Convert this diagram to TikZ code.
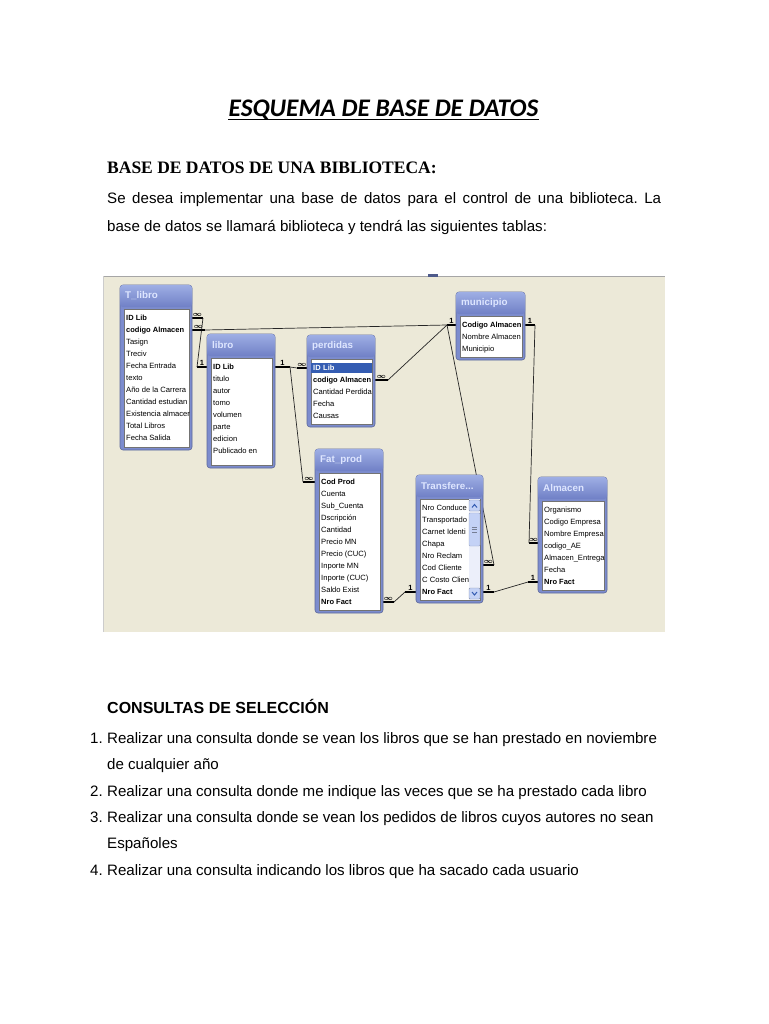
\documentclass[tikz,border=0pt]{standalone}
\usepackage{fontspec}
\setmainfont{Liberation Sans}
\newfontfamily\headfont{Liberation Serif}
\newfontfamily\titlefont{Carlito}
\usetikzlibrary{positioning,calc,backgrounds}
\frenchspacing

\definecolor{screenback}{HTML}{ECE9D8}
\definecolor{winframe}{RGB}{124,140,206}
\definecolor{wintop}{RGB}{158,174,228}
\definecolor{winbot}{RGB}{112,128,198}
\definecolor{wintext}{RGB}{222,230,255}
\definecolor{selblue}{RGB}{52,92,178}
\definecolor{scrolltrack}{RGB}{236,239,250}
\definecolor{scrollbtn}{RGB}{196,210,246}

\tikzset{
    win/.style={
           fill=winframe,
           draw=winframe!75!black, line width=0.6pt,
           rounded corners=3pt,
           inner sep=0pt, outer sep=0pt,
           },
    wintitle/.style={anchor=west, inner sep=0pt, text=wintext,
           font=\fontsize{9.8}{10}\selectfont\bfseries},
    row/.style={anchor=west, inner sep=0pt, text height=5.4pt, text depth=1.4pt,
           font=\fontsize{7.6}{8}\selectfont},
    keyrow/.style={row, font=\fontsize{7.5}{8}\selectfont\bfseries},
    selrow/.style={keyrow, text=white, fill=selblue, inner xsep=2pt,
           inner ysep=2pt, text width=70pt, xshift=-2pt},
    link/.style={draw=black!85, line width=0.7pt},
    stub/.style={draw=black, line width=2.2pt},
    card/.style={inner sep=0.5pt, font=\fontsize{7.5}{8}\selectfont\bfseries\boldmath},
    body/.style={anchor=base west, inner sep=0pt, font=\fontsize{15.1}{18}\selectfont},
}

% one table window: name, x1, y1, x2, y2, title, rows (style/text)
\newcommand{\dbtable}[7]{%
    \node[win, minimum width=#4-#2, minimum height=#5-#3,
          anchor=north west] (#1) at (#2,#3) {};
    \shade[top color=wintop, bottom color=winbot, rounded corners=3pt]
          (#2,#3) rectangle (#4,#3+22);
    \node[wintitle] (#1-title) at (#2+5,#3+11) {#6};
    \draw[fill=white, draw=black!55, line width=0.5pt]
          (#2+4,#3+24) rectangle (#4-3,#5-3);
    \begin{scope}
        \clip (#2+4,#3+24) rectangle (#4-3,#5-3);
        \foreach \s/\t [count=\i] in {#7}
            \node[\s] (#1-\i) at (#2+6,#3+21+12*\i) {\t};
    \end{scope}
}

\begin{document}
\begin{tikzpicture}[x=1pt,y=-1pt]
    \useasboundingbox (0,0) rectangle (768,1024);

    \begin{pgfonlayer}{background}
        \fill[white] (0,0) rectangle (768,1024);
        % the screenshot of the relations window
        \fill[screenback] (103,276) rectangle (665,632);
        \draw[black!35, line width=1.4pt] (103,276.5) -- (665,276.5);
        \draw[black!20, line width=0.6pt] (103.5,276) -- (103.5,632);
        \fill[winbot!70!black] (428,273.5) rectangle (438,276.5);
    \end{pgfonlayer}

    % heading and text above the diagram
    \node[anchor=base, inner sep=0pt,
          font=\titlefont\fontsize{25.3}{28}\selectfont\bfseries\itshape]
          (title) at (383.5,117) {ESQUEMA DE BASE DE DATOS};
    \draw[line width=1.7pt] ($(title.base west)+(0,2.6)$) -- ($(title.base east)+(0,2.6)$);

    \node[anchor=base west, inner sep=0pt,
          font=\headfont\fontsize{17.5}{20}\selectfont\bfseries]
          (head) at (107,174) {BASE DE DATOS DE UNA BIBLIOTECA:};
    \node[body] (intro1) at (107,204)
          {\makebox[554pt][s]{Se desea implementar una base de datos para el control de una biblioteca. La}};
    \node[body] (intro2) at (107,232)
          {base de datos se llamará biblioteca y tendrá las siguientes tablas:};

    % Tables
    \dbtable{tlibro}{120}{285}{192}{450}{T\_libro}{keyrow/ID Lib, keyrow/codigo Almacen,
        row/Tasign, row/Treciv, row/Fecha Entrada, row/texto, row/Año de la Carrera,
        row/Cantidad estudian, row/Existencia almacer, row/Total Libros, row/Fecha Salida}
    \dbtable{libro}{207}{334}{275}{468}{libro}{keyrow/ID Lib, row/titulo, row/autor,
        row/tomo, row/volumen, row/parte, row/edicion, row/Publicado en}
    \dbtable{perdidas}{307}{335}{375}{427}{perdidas}{selrow/ID Lib, keyrow/codigo Almacen,
        row/Cantidad Perdida, row/Fecha, row/Causas}
    \dbtable{municipio}{456}{292}{525}{360}{municipio}{keyrow/Codigo Almacen,
        row/Nombre Almacen, row/Municipio}
    \dbtable{fatprod}{315}{449}{383}{613}{Fat\_prod}{keyrow/Cod Prod, row/Cuenta,
        row/Sub\_Cuenta, row/Dscripción, row/Cantidad, row/Precio MN, row/Precio (CUC),
        row/Inporte MN, row/Inporte (CUC), row/Saldo Exist, keyrow/Nro Fact}
    \dbtable{transfere}{416}{475}{483}{603}{Transfere...}{row/Nro Conduce, row/Transportado,
        row/Carnet Identi, row/Chapa, row/Nro Reclam, row/Cod Cliente,
        row/C Costo Client, keyrow/Nro Fact}
    \dbtable{almacen}{538}{477}{607}{593}{Almacen}{row/Organismo, row/Codigo Empresa,
        row/Nombre Empresa, row/codigo\_AE, row/Almacen\_Entrega, row/Fecha, keyrow/Nro Fact}

    % scroll bar of Transfere...
    \fill[scrolltrack] (469,499) rectangle (480,600);
    \draw[fill=scrollbtn, draw=scrollbtn!70!black, rounded corners=1pt] (469,500) rectangle (480,511);
    \draw[fill=scrollbtn, draw=scrollbtn!80!black, rounded corners=1pt] (469,513) rectangle (480,546);
    \draw[fill=scrollbtn, draw=scrollbtn!70!black, rounded corners=1pt] (469,588) rectangle (480,599);
    \draw[selblue, line width=1pt] (472,507.5) -- (474.5,504.5) -- (477,507.5);
    \draw[selblue, line width=1pt] (472,592) -- (474.5,595) -- (477,592);
    \foreach \g in {527,529.5,532}
        \draw[scrollbtn!60!black, line width=0.4pt] (472,\g) -- (477,\g);

    % relationships (behind the tables)
    \begin{pgfonlayer}{background}
        % T_libro -- libro
        \draw[stub] (tlibro.east |- tlibro-1) -- node[card, above] (c1a) {$\infty$} ++(11,0) coordinate (r1a);
        \draw[stub] (libro.west |- libro-1) -- node[card, above] (c1b) {1} ++(-10,0) coordinate (r1b);
        \draw[link] (r1a) -- (r1b);

        % T_libro -- municipio
        \draw[stub] (tlibro.east |- tlibro-2) -- node[card, above] (c2a) {$\infty$} ++(13,0) coordinate (r2a);
        \draw[stub] (municipio.west |- municipio-1) -- node[card, above] (c2b) {1} ++(-9,0) coordinate (muni);
        \draw[link] (r2a) -- (muni);

        % libro -- perdidas and libro -- Fat_prod
        \draw[stub] (libro.east |- libro-1) -- node[card, above] (c3a) {1} ++(15,0) coordinate (r3a);
        \draw[stub] (perdidas.west |- perdidas-1) -- node[card, above] (c3b) {$\infty$} ++(-10,0) coordinate (r3b);
        \draw[link] (r3a) -- (r3b);
        \draw[stub] (fatprod.west |- fatprod-1) -- node[card, above] (c4b) {$\infty$} ++(-12,0) coordinate (r4b);
        \draw[link] (r3a) -- (r4b);

        % perdidas -- municipio
        \draw[stub] (perdidas.east |- perdidas-2) -- node[card, above] (c5a) {$\infty$} ++(13,0) coordinate (r5a);
        \draw[link] (r5a) -- (muni);

        % municipio -- Transfere...
        \draw[stub] ($(transfere.east |- transfere-6)+(0,-3)$) -- node[card, above] (c6b) {$\infty$} ++(11,0) coordinate (r6b);
        \draw[link] (muni) -- (r6b);

        % municipio -- Almacen
        \draw[stub] (municipio.east |- municipio-1) -- node[card, above] (c7a) {1} ++(10,0) coordinate (r7a);
        \draw[stub] ($(almacen.west |- almacen-4)+(0,-3)$) -- node[card, above] (c7b) {$\infty$} ++(-9,0) coordinate (r7b);
        \draw[link] (r7a) -- (r7b);

        % Fat_prod -- Transfere...
        \draw[stub] (fatprod.east |- fatprod-11) -- node[card, above] (c8a) {$\infty$} ++(11,0) coordinate (r8a);
        \draw[stub] (transfere.west |- transfere-8) -- node[card, above] (c8b) {1} ++(-11,0) coordinate (r8b);
        \draw[link] (r8a) -- (r8b);

        % Transfere... -- Almacen
        \draw[stub] (transfere.east |- transfere-8) -- node[card, above] (c9a) {1} ++(11,0) coordinate (r9a);
        \draw[stub] (almacen.west |- almacen-7) -- node[card, above] (c9b) {1} ++(-10,0) coordinate (r9b);
        \draw[link] (r9a) -- (r9b);
    \end{pgfonlayer}

    % queries
    \node[body, font=\fontsize{16}{18}\selectfont\bfseries] (consultas) at (107,713) {CONSULTAS DE SELECCIÓN};
    \node[body] (n1) at (90,743) {1.};
    \node[body] (q1) at (107,743) {Realizar una consulta donde se vean los libros que se han prestado en noviembre};
    \node[body] (q1b) at (107,769) {de cualquier año};
    \node[body] (n2) at (90,796) {2.};
    \node[body] (q2) at (107,796) {Realizar una consulta donde me indique las veces que se ha prestado cada libro};
    \node[body] (n3) at (90,822) {3.};
    \node[body] (q3) at (107,822) {Realizar una consulta donde se vean los pedidos de libros cuyos autores no sean};
    \node[body] (q3b) at (107,848) {Españoles};
    \node[body] (n4) at (90,875) {4.};
    \node[body] (q4) at (107,875) {Realizar una consulta indicando los libros que ha sacado cada usuario};
\end{tikzpicture}
\end{document}
